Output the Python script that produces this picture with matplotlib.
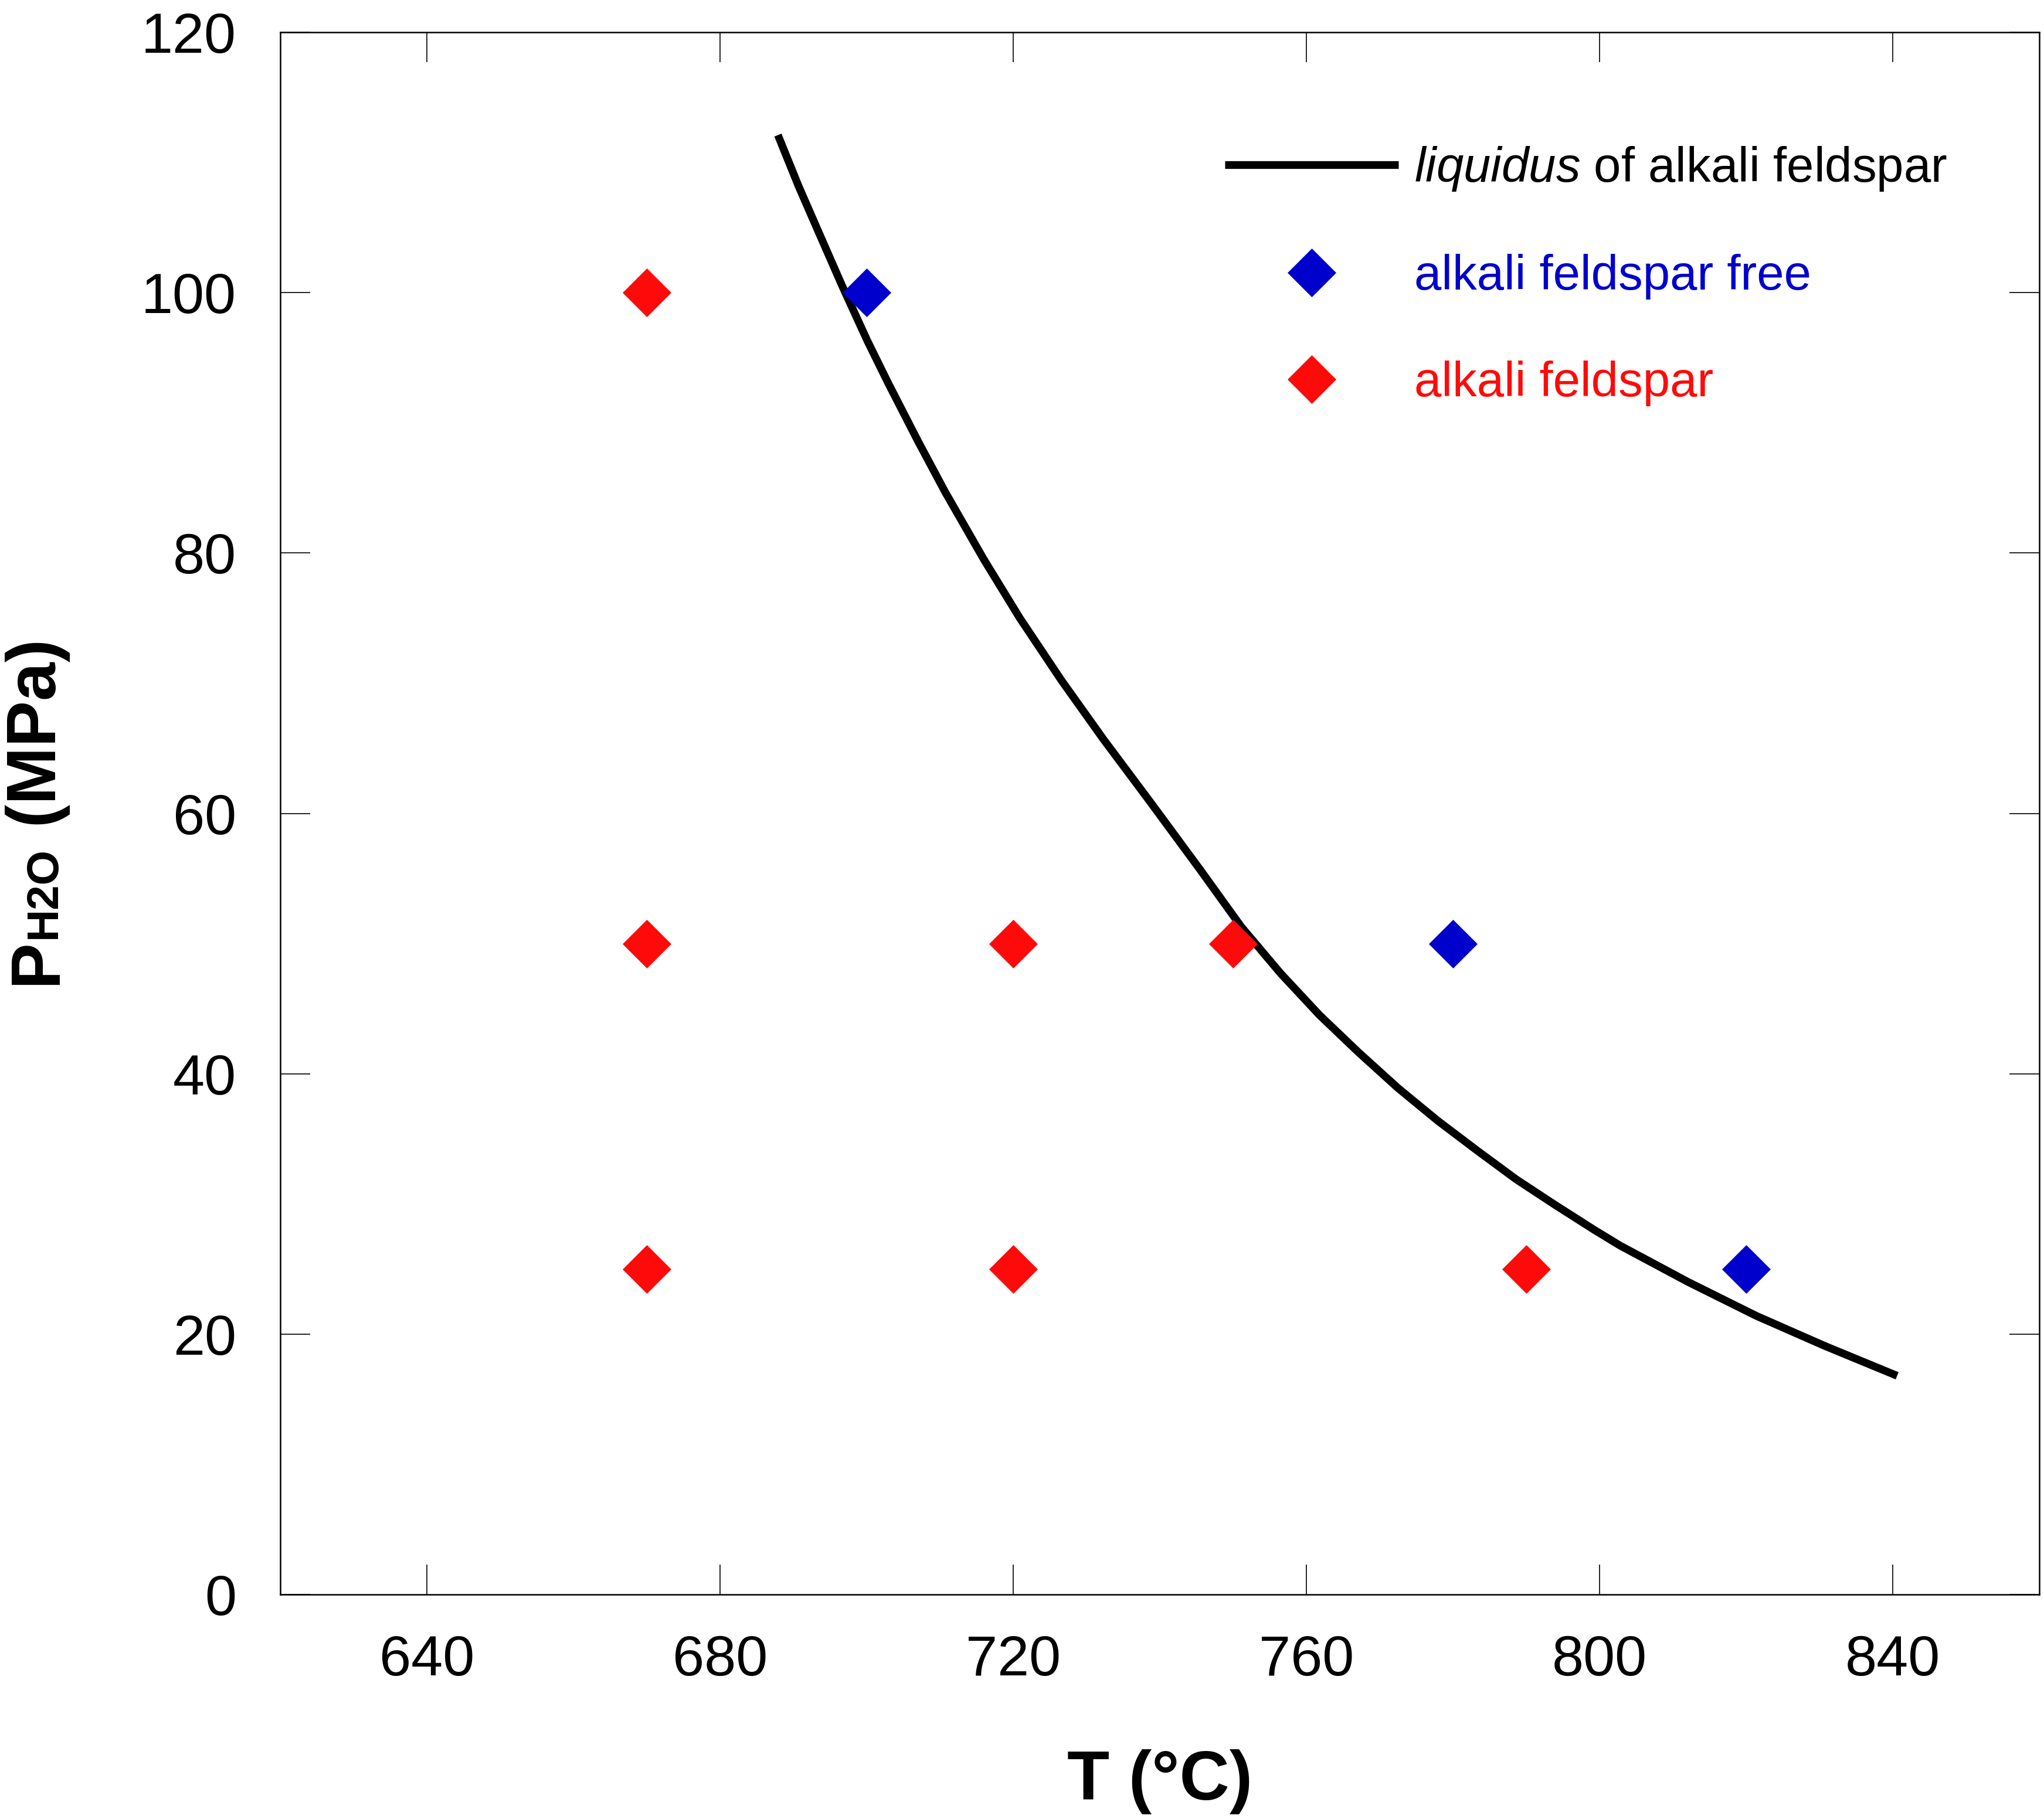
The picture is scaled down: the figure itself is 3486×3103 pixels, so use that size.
import matplotlib
matplotlib.use("Agg")
import matplotlib.pyplot as plt
from matplotlib.font_manager import FontProperties

# ---- data ----
T_liquidus = [687.9, 690.7, 693.1, 696.6, 700.1, 702.9, 707.0, 710.7, 716.0,
              720.9, 726.6, 732.3, 738.8, 745.6, 751.1, 756.5, 761.8, 767.2,
              772.5, 777.9, 783.3, 788.6, 794.0, 799.3, 802.8, 812.1, 821.4,
              830.7, 840.6]
P_liquidus = [112.1, 108.2, 105.1, 100.6, 96.3, 93.1, 88.6, 84.7, 79.5,
              75.0, 70.2, 65.7, 60.8, 55.6, 51.3, 47.7, 44.5, 41.6,
              38.9, 36.4, 34.1, 31.9, 29.9, 28.0, 26.8, 24.0, 21.4,
              19.1, 16.8]

T_free = [700, 780, 820]
P_free = [100, 50, 25]

T_afs = [670, 670, 670, 720, 720, 750, 790]
P_afs = [100, 50, 25, 50, 25, 50, 25]

x_ticks = [640, 680, 720, 760, 800, 840]
y_ticks = [0, 20, 40, 60, 80, 100, 120]

label_liq = r"$\mathit{liquidus}$ of alkali feldspar"
label_free = "alkali feldspar free"
label_afs = "alkali feldspar"

BLUE = "#0000cc"
RED = "#ff0a0a"

plt.rcParams["font.family"] = ["Liberation Sans", "DejaVu Sans"]
plt.rcParams["mathtext.fontset"] = "custom"
plt.rcParams["mathtext.rm"] = "Liberation Sans"
plt.rcParams["mathtext.it"] = "Liberation Sans:italic"
plt.rcParams["mathtext.bf"] = "Liberation Sans:bold"

W, H = 3487, 3103
fig = plt.figure(figsize=(W / 100, H / 100), dpi=100)
ax = fig.add_axes([478 / W, (H - 2720) / H, 3000 / W, 2665 / H])

ax.plot(T_liquidus, P_liquidus, color="black", lw=9.5, solid_capstyle="butt",
        solid_joinstyle="round", label=label_liq, zorder=2)
ax.plot(T_free, P_free, ls="none", marker="D", ms=42, color=BLUE,
        mec=BLUE, mew=0.5, label=label_free, zorder=3)
ax.plot(T_afs, P_afs, ls="none", marker="D", ms=42, color=RED,
        mec=RED, mew=0.5, label=label_afs, zorder=3)

ax.set_xlim(620, 860)
ax.set_ylim(0, 120)
ax.set_xticks(x_ticks)
ax.set_yticks(y_ticks)

for sp in ax.spines.values():
    sp.set_linewidth(1.8)

ax.tick_params(axis="both", which="major", direction="in", length=36.7,
               width=1.2, labelsize=70, top=True, right=True)
ax.tick_params(axis="x", pad=49)
ax.tick_params(axis="y", pad=54)

ax.set_xlabel("T (°C)", fontsize=85, fontweight="bold", va="baseline")
ax.xaxis.set_label_coords(0.5, -(3070 - 2720) / 2665)

leg = ax.legend(loc="upper left", bbox_to_anchor=(0.537, 0.928),
                frameon=False, fontsize=60, handlelength=3.55,
                handletextpad=0.33, labelspacing=1.25, borderpad=0,
                borderaxespad=0, numpoints=1,
                labelcolor=["black", BLUE, RED])

# ---- composite y label: P with same-baseline smaller "H2O" ----
fig.canvas.draw()
renderer = fig.canvas.get_renderer()
parts = [("P", 85), ("H2O", 55), (" (MPa)", 85)]
widths = []
for s, sz in parts:
    fp = FontProperties(family="Liberation Sans", weight="bold", size=sz)
    w, h, d = renderer.get_text_width_height_descent(s, fp, ismath=False)
    widths.append(w)
total = sum(widths)
y_center = H - 1385
ypos = y_center - total / 2
x_base = 95
for (s, sz), w in zip(parts, widths):
    fig.text(x_base / W, ypos / H, s, rotation=90, rotation_mode="anchor",
             ha="left", va="baseline", fontsize=sz, fontweight="bold",
             family="Liberation Sans")
    ypos += w

fig.savefig("out.png", dpi=100)
